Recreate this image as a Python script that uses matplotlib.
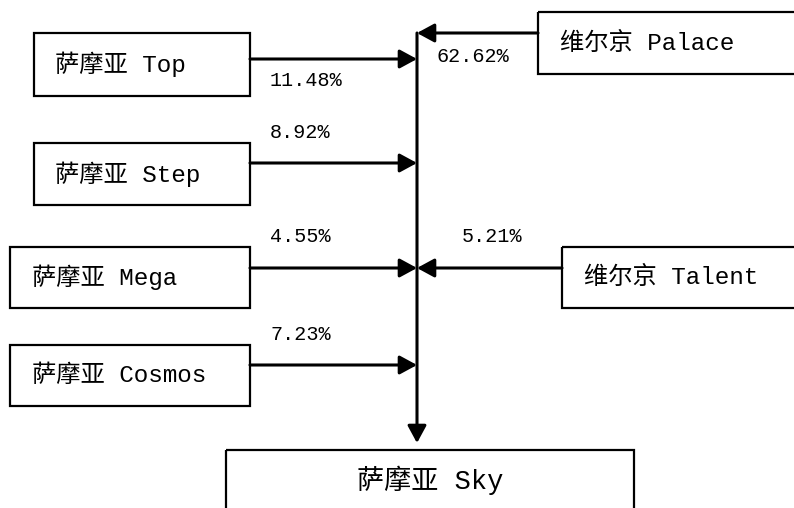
import matplotlib.pyplot as plt
from matplotlib.patches import Rectangle

plt.rcParams['font.family'] = ['Liberation Mono', 'Noto Sans CJK SC', 'DejaVu Sans']

# 股东及持股比例
left_names = ['萨摩亚 Top', '萨摩亚 Step', '萨摩亚 Mega', '萨摩亚 Cosmos']
left_pcts = ['11.48%', '8.92%', '4.55%', '7.23%']
right_names = ['维尔京 Palace', '维尔京 Talent']
right_pcts = ['62.62%', '5.21%']
target = '萨摩亚 Sky'

# 版面位置（像素，y 向下）
left_boxes = [(34, 33, 250, 96), (34, 143, 250, 205), (10, 247, 250, 308), (10, 345, 250, 406)]
left_text_x = [55, 55, 32, 32]
left_arrow_y = [59, 163, 268, 365]
left_label_y = [81, 133, 237, 335]
right_boxes = [(538, 12, 800, 74), (562, 247, 800, 308)]
right_text_x = [560, 584]
right_arrow_y = [33, 268]
right_label_pos = [(437, 57), (462, 236)]
sky_box = (226, 450, 634, 520)
trunk_x = 417

fig = plt.figure(figsize=(7.94, 5.08), dpi=100)
ax = fig.add_axes([0, 0, 1, 1])
ax.set_xlim(0, 794)
ax.set_ylim(508, 0)
ax.axis('off')

arrow = dict(arrowstyle='-|>,head_length=0.7,head_width=0.38', color='black',
             lw=2.2, mutation_scale=15, shrinkA=0, shrinkB=0)

def box(x0, y0, x1, y1):
    ax.add_patch(Rectangle((x0, y0), x1 - x0, y1 - y0, fill=False, ec='black', lw=1.6))

for i, name in enumerate(left_names):
    x0, y0, x1, y1 = left_boxes[i]
    box(x0, y0, x1, y1)
    ax.text(left_text_x[i], (y0 + y1) / 2, name, fontsize=17.5, va='center', ha='left')
    ax.annotate('', xy=(trunk_x, left_arrow_y[i]), xytext=(x1, left_arrow_y[i]), arrowprops=arrow)
    ax.text(270, left_label_y[i], left_pcts[i], fontsize=14.5, va='center', ha='left')

for i, name in enumerate(right_names):
    x0, y0, x1, y1 = right_boxes[i]
    box(x0, y0, x1, y1)
    ax.text(right_text_x[i], (y0 + y1) / 2, name, fontsize=17.5, va='center', ha='left')
    ax.annotate('', xy=(trunk_x, right_arrow_y[i]), xytext=(x0, right_arrow_y[i]), arrowprops=arrow)
    lx, ly = right_label_pos[i]
    ax.text(lx, ly, right_pcts[i], fontsize=14.5, va='center', ha='left')

# 主干竖线
ax.annotate('', xy=(trunk_x, 443), xytext=(trunk_x, 33), arrowprops=arrow)

x0, y0, x1, y1 = sky_box
box(x0, y0, x1, y1)
ax.text((x0 + x1) / 2, 480, target, fontsize=19.5, va='center', ha='center')

fig.savefig('out.png', dpi=100)
